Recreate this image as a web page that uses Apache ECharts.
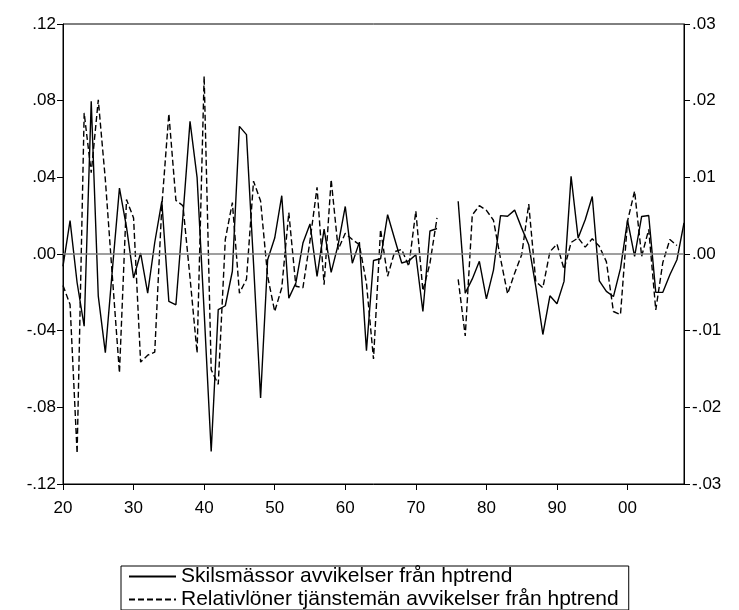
<!DOCTYPE html>
<html>
<head>
<meta charset="utf-8">
<script src="https://cdn.jsdelivr.net/npm/echarts@6/dist/echarts.min.js"></script>
<style>
html,body{margin:0;padding:0;background:#fff;}
#chart{width:739px;height:610px;}
</style>
</head>
<body>
<div id="chart"></div>
<script>
// Years 1920..2008
var startYear = 1920;
var endYear = 2008;
var xTickYears = [1920, 1930, 1940, 1950, 1960, 1970, 1980, 1990, 2000];

// Skilsmässor avvikelser från hptrend (left axis)
var skilsmassor = [
  -0.0064, 0.0174, -0.015, -0.0377, 0.0797, -0.022, -0.0515, -0.008, 0.0344, 0.014,
  -0.0125, 0.0005, -0.0204, 0.006, 0.0275, -0.0247, -0.0265, 0.02, 0.0692, 0.040,
  -0.03, -0.103, -0.029, -0.027, -0.009, 0.0666, 0.0623, -0.005, -0.0751, -0.003,
  0.0083, 0.0304, -0.023, -0.0151, 0.0057, 0.0157, -0.0117, 0.013, -0.0096, 0.005,
  0.0248, -0.0048, 0.0062, -0.0504, -0.0034, -0.0025, 0.0205, 0.0078, -0.0047, -0.0036,
  -0.0004, -0.030, 0.012, 0.0133, null, null, 0.0275, -0.0204, -0.013, -0.0038,
  -0.0234, -0.0084, 0.020, 0.0197, 0.0229, 0.0135, 0.0048, -0.017, -0.042, -0.0218,
  -0.026, -0.0143, 0.0405, 0.0083, 0.0179, 0.030, -0.014, -0.0195, -0.0222, -0.0075,
  0.0175, -0.0012, 0.0196, 0.0201, -0.020, -0.020, -0.0108, -0.003, 0.0162
];

// Relativlöner tjänstemän avvikelser från hptrend (right axis)
var relativloner = [
  -0.0041, -0.0066, -0.0260, 0.0184, 0.0106, 0.0201, 0.0097, -0.003, -0.0155, 0.0071,
  0.0047, -0.0141, -0.0132, -0.0128, 0.0062, 0.0183, 0.0070, 0.0063, -0.0031, -0.0129,
  0.0232, -0.0151, -0.0170, 0.0019, 0.0067, -0.0051, -0.0033, 0.0095, 0.0069, -0.0029,
  -0.0075, -0.0044, 0.0054, -0.0042, -0.0044, 0.0017, 0.0087, -0.0040, 0.0097, 0.0006,
  0.0027, 0.0019, 0.0012, -0.0038, -0.0137, 0.0032, -0.0029, 0.0003, 0.0006, -0.0016,
  0.0056, -0.0048, -0.0012, 0.0047, null, null, -0.0033, -0.0107, 0.0051, 0.0063,
  0.0057, 0.0044, -0.0006, -0.0052, -0.0025, -0.0001, 0.0065, -0.0036, -0.0044, 0.0003,
  0.0013, -0.002, 0.0015, 0.0021, 0.0009, 0.0020, 0.0010, -0.0010, -0.0075, -0.0079,
  0.0043, 0.0082, -0.0003, 0.0032, -0.0073, -0.0011, 0.0019, 0.0011, null
];

var seriesNames = [
  'Skilsmässor avvikelser från hptrend',
  'Relativlöner tjänstemän avvikelser från hptrend'
];

function toPairs(vals) {
  var out = [];
  for (var i = 0; i < vals.length; i++) {
    out.push([startYear + i, vals[i] === null ? '-' : vals[i]]);
  }
  return out;
}

var FONT = "'Liberation Sans', Arial, sans-serif";
function fmtY(v) {
  var s = Math.abs(v) < 1e-9 ? '0.00' : v.toFixed(2);
  return s.replace('0.', '.');
}

var chart = echarts.init(document.getElementById('chart'), null, {renderer: 'canvas'});
chart.setOption({
  animation: false,
  backgroundColor: '#fff',
  grid: {
    left: 63, right: 55, top: 24, height: 460,
    show: true, borderColor: '#000', borderWidth: 1, backgroundColor: 'transparent'
  },
  xAxis: {
    type: 'value', min: startYear, max: endYear, interval: 10,
    axisLine: {show: true, onZero: false, lineStyle: {color: '#000', width: 1}},
    axisTick: {show: true, length: 6, inside: false, customValues: xTickYears, lineStyle: {color: '#000'}},
    axisLabel: {
      customValues: xTickYears,
      margin: 16, color: '#000', fontSize: 17, fontFamily: FONT,
      formatter: function (v) { var y = Math.round(v) % 100; return (y < 10 ? '0' : '') + y; }
    },
    splitLine: {show: false}
  },
  yAxis: [
    {
      type: 'value', position: 'left', min: -0.12, max: 0.12, interval: 0.04,
      axisLine: {show: true, lineStyle: {color: '#000', width: 1}},
      axisTick: {show: true, length: 6, inside: false, lineStyle: {color: '#000'}},
      axisLabel: {margin: 7, color: '#000', fontSize: 17, fontFamily: FONT, formatter: fmtY},
      splitLine: {show: false}
    },
    {
      type: 'value', position: 'right', min: -0.03, max: 0.03, interval: 0.01,
      axisLine: {show: true, lineStyle: {color: '#000', width: 1}},
      axisTick: {show: true, length: 6, inside: false, lineStyle: {color: '#000'}},
      axisLabel: {margin: 8, color: '#000', fontSize: 17, fontFamily: FONT, formatter: fmtY},
      splitLine: {show: false}
    }
  ],
  legend: {
    orient: 'vertical',
    left: 121, top: 566,
    height: 120,
    padding: [0, 10, 0, 7],
    itemGap: 2,
    itemWidth: 47, itemHeight: 14,
    borderColor: '#000', borderWidth: 1,
    backgroundColor: '#fff',
    itemStyle: {opacity: 0},
    textStyle: {color: '#000', fontSize: 21, fontFamily: FONT},
    data: seriesNames
  },
  series: [
    {
      name: seriesNames[0], type: 'line', yAxisIndex: 0,
      data: toPairs(skilsmassor),
      symbol: 'none', showSymbol: false, connectNulls: false,
      lineStyle: {color: '#000', width: 1.4, type: 'solid'},
      itemStyle: {color: '#000'},
      markLine: {
        silent: true, symbol: 'none', animation: false,
        label: {show: false},
        lineStyle: {color: '#7f7f7f', width: 1.6, type: 'solid'},
        data: [{yAxis: 0}]
      },
      z: 3
    },
    {
      name: seriesNames[1], type: 'line', yAxisIndex: 1,
      data: toPairs(relativloner),
      symbol: 'none', showSymbol: false, connectNulls: false,
      lineStyle: {color: '#000', width: 1.4, type: [6, 3]},
      itemStyle: {color: '#000'},
      z: 3
    }
  ]
});
</script>
</body>
</html>
